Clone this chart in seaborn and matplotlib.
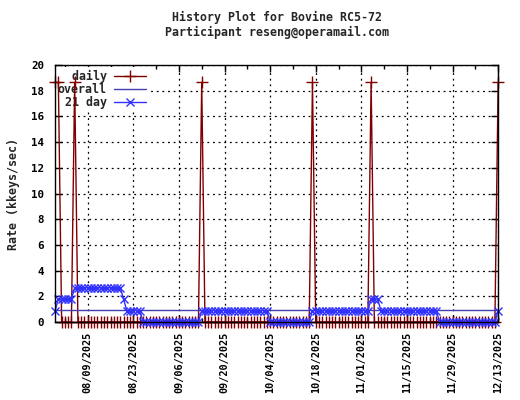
import pandas as pd
import numpy as np
import seaborn as sns
import matplotlib
matplotlib.use("Agg")
import matplotlib.pyplot as plt
import matplotlib.dates as mdates
from matplotlib.ticker import FixedLocator

# one value per day, starting 07/30/2025
start_date = "2025-07-30"

daily_rate = [
    18.65, 18.65, 0, 0, 0, 0, 18.65, 0, 0, 0,
    0, 0, 0, 0, 0, 0, 0, 0, 0, 0,
    0, 0, 0, 0, 0, 0, 0, 0, 0, 0,
    0, 0, 0, 0, 0, 0, 0, 0, 0, 0,
    0, 0, 0, 0, 0, 18.65, 0, 0, 0, 0,
    0, 0, 0, 0, 0, 0, 0, 0, 0, 0,
    0, 0, 0, 0, 0, 0, 0, 0, 0, 0,
    0, 0, 0, 0, 0, 0, 0, 0, 0, 18.65,
    0, 0, 0, 0, 0, 0, 0, 0, 0, 0,
    0, 0, 0, 0, 0, 0, 0, 18.65, 0, 0,
    0, 0, 0, 0, 0, 0, 0, 0, 0, 0,
    0, 0, 0, 0, 0, 0, 0, 0, 0, 0,
    0, 0, 0, 0, 0, 0, 0, 0, 0, 0,
    0, 0, 0, 0, 0, 0, 18.65,
]

rate_21day = [
    0.89, 1.78, 1.78, 1.78, 1.78, 1.78, 2.66, 2.66, 2.66, 2.66,
    2.66, 2.66, 2.66, 2.66, 2.66, 2.66, 2.66, 2.66, 2.66, 2.66,
    2.66, 1.78, 0.89, 0.89, 0.89, 0.89, 0.89, 0, 0, 0,
    0, 0, 0, 0, 0, 0, 0, 0, 0, 0,
    0, 0, 0, 0, 0, 0.89, 0.89, 0.89, 0.89, 0.89,
    0.89, 0.89, 0.89, 0.89, 0.89, 0.89, 0.89, 0.89, 0.89, 0.89,
    0.89, 0.89, 0.89, 0.89, 0.89, 0.89, 0, 0, 0, 0,
    0, 0, 0, 0, 0, 0, 0, 0, 0, 0.89,
    0.89, 0.89, 0.89, 0.89, 0.89, 0.89, 0.89, 0.89, 0.89, 0.89,
    0.89, 0.89, 0.89, 0.89, 0.89, 0.89, 0.89, 1.78, 1.78, 1.78,
    0.89, 0.89, 0.89, 0.89, 0.89, 0.89, 0.89, 0.89, 0.89, 0.89,
    0.89, 0.89, 0.89, 0.89, 0.89, 0.89, 0.89, 0.89, 0, 0,
    0, 0, 0, 0, 0, 0, 0, 0, 0, 0,
    0, 0, 0, 0, 0, 0, 0.89,
]

overall_rate = 0.93

tick_dates = ["08/09/2025", "08/23/2025", "09/06/2025", "09/20/2025", "10/04/2025",
              "10/18/2025", "11/01/2025", "11/15/2025", "11/29/2025", "12/13/2025"]
y_ticks = [0, 2, 4, 6, 8, 10, 12, 14, 16, 18, 20]

df = pd.DataFrame({
    "date": pd.date_range(start_date, periods=len(daily_rate), freq="D"),
    "daily": daily_rate,
    "avg21": rate_21day,
})

sns.set_style("ticks")
plt.rcParams["font.family"] = ["DejaVu Sans Mono", "DejaVu Sans"]
plt.rcParams["font.weight"] = "bold"
plt.rcParams["font.size"] = 8.4

fig, ax = plt.subplots(figsize=(5.2, 4.0), dpi=100)
fig.subplots_adjust(left=0.106, right=0.958, top=0.8375, bottom=0.195)

red, navy, blue = "#800000", "#4040b0", "#3030ff"

sns.lineplot(data=df, x="date", y="daily", ax=ax, color=red, lw=1,
             marker="+", markersize=8, mew=1, mec=red, mfc=red,
             label="  daily", clip_on=False, zorder=3)
ax.axhline(overall_rate, color=navy, lw=1, label="overall", zorder=3)
sns.lineplot(data=df, x="date", y="avg21", ax=ax, color=blue, lw=1,
             marker="x", markersize=6, mew=1, mec=blue, mfc=blue,
             label=" 21 day", clip_on=False, zorder=3)

major = pd.to_datetime(tick_dates, format="%m/%d/%Y")
ax.set_xlim(df["date"].iloc[0], major[-1])
ax.set_ylim(0, 20)
ax.xaxis.set_major_locator(FixedLocator(mdates.date2num(major)))
minor = pd.date_range(major[0] - pd.Timedelta(days=7), major[-1], freq="14D")
ax.xaxis.set_minor_locator(FixedLocator(mdates.date2num(minor)))
ax.xaxis.set_major_formatter(mdates.DateFormatter("%m/%d/%Y"))
ax.set_yticks(y_ticks)

ax.tick_params(axis="both", which="both", direction="in", top=True, right=True,
               colors="black", width=1)
ax.tick_params(which="major", length=5)
ax.tick_params(which="minor", length=3)
ax.tick_params(axis="x", labelrotation=90, pad=7, labelsize=7.3)
ax.tick_params(axis="y", pad=8, labelsize=7.8)

ax.grid(True, which="major", color="black", ls=(0, (1.5, 3)), lw=0.9)
for s in ax.spines.values():
    s.set_color("black")
    s.set_linewidth(1)
    s.set_zorder(4)

ax.set_xlabel("")
ax.set_ylabel("Rate (kkeys/sec)", fontsize=8.4, fontweight="bold", labelpad=8)
ax.set_title("History Plot for Bovine RC5-72\nParticipant reseng@operamail.com",
             fontsize=8.4, fontweight="bold", pad=21, linespacing=1.15)

leg = ax.legend(loc="upper left", bbox_to_anchor=(-0.005, 1.0), markerfirst=False,
                frameon=True, framealpha=1, facecolor="white", edgecolor="white",
                fancybox=False, handlelength=2.8, handletextpad=0.6,
                labelspacing=0.0, borderpad=0.2, borderaxespad=0.2, fontsize=8.4)
leg.get_frame().set_linewidth(0)
# key sits above the grid but under the data, as in the original
leg.set_zorder(1)

fig.savefig("out.png", dpi=100)
